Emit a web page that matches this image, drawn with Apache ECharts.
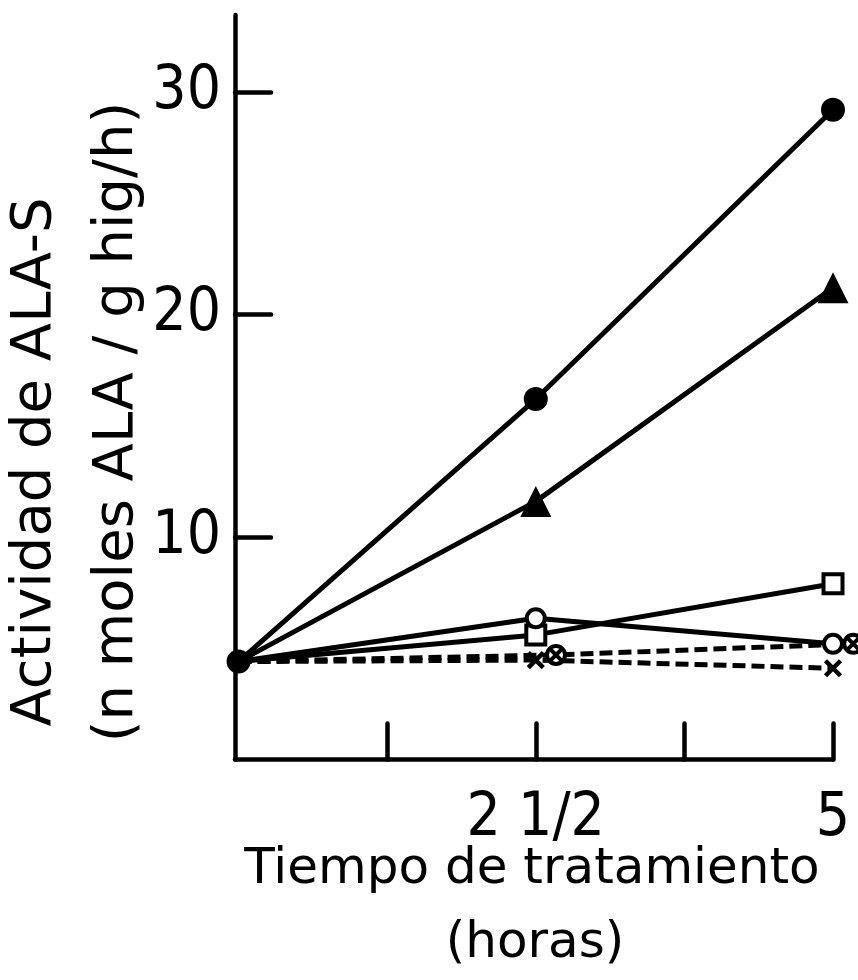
<!DOCTYPE html>
<html><head><meta charset="utf-8">
<script src="https://cdn.jsdelivr.net/npm/echarts@6/dist/echarts.min.js"></script>
<style>html,body{margin:0;padding:0;background:#fff}#c{width:858px;height:980px}</style>
</head><body><div id="c"></div>
<script>
// ---- data ----
const timeHours = [0, 2.5, 5];
const crossedCircleTime = [0, 2.67, 5.17]; // drawn slightly offset in the original
const filledCircle   = [4.4, 16.2, 29.2];
const filledTriangle = [4.4, 11.6, 21.2];
const openSquare     = [4.4, 5.6, 7.9];
const openCircle     = [4.4, 6.35, 5.2];
const crossedCircle  = [4.4, 4.7, 5.2];
const crossMark      = [4.4, 4.47, 4.1];
const xTickValues = [1.25, 2.5, 3.75, 5];
const xTickLabels = ['', '2 1/2', '', '5'];
const yTickValues = [10, 20, 30];
const yTitle1 = 'Actividad de ALA-S';
const yTitle2 = '(n moles ALA / g hig/h)';
const xTitle1 = 'Tiempo de tratamiento';
const xTitle2 = '(horas)';

const numFont = "'Liberation Sans Narrow', 'DejaVu Sans Condensed', sans-serif";
const txtFont = "'DejaVu Sans', sans-serif";

function pts(xs, ys, hideFirst) {
  return ys.map((v, i) => {
    const item = { value: [xs[i], v] };
    if (i === 0 && hideFirst) item.symbol = 'none';
    return item;
  });
}

const crossPath = 'path://M0,0 L10,10 M10,0 L0,10';
const circledCrossPath = 'path://M0,10 A10,10 0 1,1 20,10 A10,10 0 1,1 0,10 Z M4,4 L16,16 M16,4 L4,16';

const series = [
  { name: 'filledCircle', data: pts(timeHours, filledCircle, false), symbol: 'circle', symbolSize: 24,
    itemStyle: { color: '#000' }, lineStyle: { color: '#000', width: 5 } },
  { name: 'filledTriangle', data: pts(timeHours, filledTriangle, true), symbol: 'triangle', symbolSize: [31, 31],
    itemStyle: { color: '#000' }, lineStyle: { color: '#000', width: 5 } },
  { name: 'openSquare', data: pts(timeHours, openSquare, true), symbol: 'rect', symbolSize: 19,
    itemStyle: { color: '#fff', borderColor: '#000', borderWidth: 4 }, lineStyle: { color: '#000', width: 5 } },
  { name: 'openCircle', data: pts(timeHours, openCircle, true), symbol: 'circle', symbolSize: 18,
    itemStyle: { color: '#fff', borderColor: '#000', borderWidth: 4 }, lineStyle: { color: '#000', width: 5 } },
  { name: 'crossedCircle', data: pts(crossedCircleTime, crossedCircle, true), symbol: circledCrossPath, symbolSize: 18,
    itemStyle: { color: '#fff', borderColor: '#000', borderWidth: 4 }, lineStyle: { color: '#000', width: 5, type: [13, 6] } },
  { name: 'crossMark', data: pts(timeHours, crossMark, true), symbol: crossPath, symbolSize: 15,
    itemStyle: { color: 'none', borderColor: '#000', borderWidth: 4.5 }, lineStyle: { color: '#000', width: 5, type: [13, 6] } }
].map(s => Object.assign({ type: 'line', clip: false, showAllSymbol: true, animation: false, z: 3 }, s));

const chart = echarts.init(document.getElementById('c'), null, { renderer: 'canvas' });
chart.setOption({
  backgroundColor: '#fff',
  animation: false,
  grid: { left: 235, right: 25, top: 15, bottom: 220.5, containLabel: false },
  xAxis: {
    type: 'value', min: -0.03, max: 5,
    splitLine: { show: false },
    axisLine: { show: true, onZero: false, lineStyle: { color: '#000', width: 4.5, cap: 'round' } },
    axisTick: { show: true, inside: true, length: 36, customValues: xTickValues, lineStyle: { color: '#000', width: 4.5, cap: 'round' } },
    axisLabel: { show: true, customValues: xTickValues, margin: 30,
      formatter: v => xTickLabels[xTickValues.indexOf(v)] || '',
      fontFamily: numFont, fontSize: 60, color: '#000' }
  },
  yAxis: {
    type: 'value', min: 0, max: 33.46,
    splitLine: { show: false },
    axisLine: { show: true, onZero: false, lineStyle: { color: '#000', width: 4.5, cap: 'round' } },
    axisTick: { show: true, inside: true, length: 36, customValues: yTickValues, lineStyle: { color: '#000', width: 4.5, cap: 'round' } },
    axisLabel: { show: true, customValues: yTickValues, margin: 14,
      fontFamily: numFont, fontSize: 60, color: '#000' }
  },
  graphic: [
    { type: 'text', x: 35, y: 462, rotation: Math.PI / 2,
      style: { text: yTitle1, font: '56px ' + txtFont, fill: '#000', align: 'center', verticalAlign: 'middle' } },
    { type: 'text', x: 117, y: 422, rotation: Math.PI / 2,
      style: { text: yTitle2, font: '56px ' + txtFont, fill: '#000', align: 'center', verticalAlign: 'middle' } },
    { type: 'text', x: 532, y: 870,
      style: { text: xTitle1, font: '50px ' + txtFont, fill: '#000', align: 'center', verticalAlign: 'middle' } },
    { type: 'text', x: 535, y: 944,
      style: { text: xTitle2, font: '50px ' + txtFont, fill: '#000', align: 'center', verticalAlign: 'middle' } }
  ],
  series: series
});
</script></body></html>
